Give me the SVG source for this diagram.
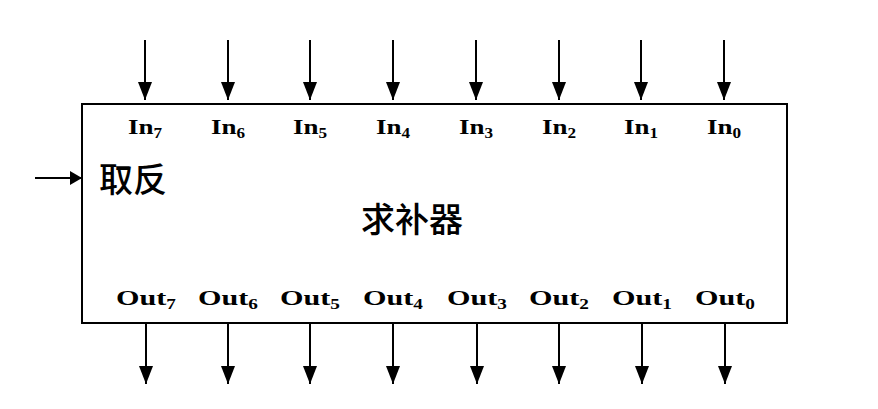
<svg xmlns="http://www.w3.org/2000/svg" width="878" height="409" viewBox="0 0 878 409">
<style>
.ln{stroke:#000;stroke-width:2;fill:none}
.box{stroke:#000;stroke-width:2;fill:#fff}
.lbl{font-family:"Liberation Serif","Times New Roman",serif;font-size:22px;font-weight:bold;fill:#000;text-anchor:middle}
.sub{font-size:14px}
.cjk{font-family:"Noto Sans CJK SC","Noto Sans CJK JP",sans-serif;font-size:34px;font-weight:500;fill:#000}
</style>
<defs>
<marker id="ah" viewBox="0 0 12 14" refX="12" refY="7" markerWidth="12" markerHeight="14" markerUnits="userSpaceOnUse" orient="auto">
<path d="M0,0 L12,7 L0,14 Z" fill="#000"/>
</marker>
<marker id="ahv" viewBox="0 0 18 14" refX="18" refY="7" markerWidth="18" markerHeight="14" markerUnits="userSpaceOnUse" orient="auto">
<path d="M0,0 L18,7 L0,14 Z" fill="#000"/>
</marker>
</defs>
<g id="complementer">
<rect class="box" x="82" y="104" width="705" height="219"/>
<text class="cjk" x="99" y="192">取反</text>
<text class="cjk" x="412" y="232" text-anchor="middle">求补器</text>
</g>
<g id="inputs">
<text class="lbl" x="145" y="134" textLength="34" lengthAdjust="spacingAndGlyphs">In<tspan class="sub" dy="4">7</tspan></text>
<text class="lbl" x="228" y="134" textLength="34" lengthAdjust="spacingAndGlyphs">In<tspan class="sub" dy="4">6</tspan></text>
<text class="lbl" x="310" y="134" textLength="34" lengthAdjust="spacingAndGlyphs">In<tspan class="sub" dy="4">5</tspan></text>
<text class="lbl" x="393" y="134" textLength="34" lengthAdjust="spacingAndGlyphs">In<tspan class="sub" dy="4">4</tspan></text>
<text class="lbl" x="476" y="134" textLength="34" lengthAdjust="spacingAndGlyphs">In<tspan class="sub" dy="4">3</tspan></text>
<text class="lbl" x="559" y="134" textLength="34" lengthAdjust="spacingAndGlyphs">In<tspan class="sub" dy="4">2</tspan></text>
<text class="lbl" x="641" y="134" textLength="34" lengthAdjust="spacingAndGlyphs">In<tspan class="sub" dy="4">1</tspan></text>
<text class="lbl" x="724" y="134" textLength="34" lengthAdjust="spacingAndGlyphs">In<tspan class="sub" dy="4">0</tspan></text>
</g>
<g id="outputs">
<text class="lbl" x="146" y="305" textLength="60" lengthAdjust="spacingAndGlyphs">Out<tspan class="sub" dy="4">7</tspan></text>
<text class="lbl" x="228" y="305" textLength="60" lengthAdjust="spacingAndGlyphs">Out<tspan class="sub" dy="4">6</tspan></text>
<text class="lbl" x="310" y="305" textLength="60" lengthAdjust="spacingAndGlyphs">Out<tspan class="sub" dy="4">5</tspan></text>
<text class="lbl" x="393" y="305" textLength="60" lengthAdjust="spacingAndGlyphs">Out<tspan class="sub" dy="4">4</tspan></text>
<text class="lbl" x="477" y="305" textLength="60" lengthAdjust="spacingAndGlyphs">Out<tspan class="sub" dy="4">3</tspan></text>
<text class="lbl" x="559" y="305" textLength="60" lengthAdjust="spacingAndGlyphs">Out<tspan class="sub" dy="4">2</tspan></text>
<text class="lbl" x="642" y="305" textLength="60" lengthAdjust="spacingAndGlyphs">Out<tspan class="sub" dy="4">1</tspan></text>
<text class="lbl" x="725" y="305" textLength="60" lengthAdjust="spacingAndGlyphs">Out<tspan class="sub" dy="4">0</tspan></text>
</g>
<g id="connectors">
<line class="ln" x1="35" y1="178" x2="82" y2="178" marker-end="url(#ah)"/>
<line class="ln" x1="145" y1="40" x2="145" y2="100" marker-end="url(#ahv)"/>
<line class="ln" x1="228" y1="40" x2="228" y2="100" marker-end="url(#ahv)"/>
<line class="ln" x1="310" y1="40" x2="310" y2="100" marker-end="url(#ahv)"/>
<line class="ln" x1="393" y1="40" x2="393" y2="100" marker-end="url(#ahv)"/>
<line class="ln" x1="476" y1="40" x2="476" y2="100" marker-end="url(#ahv)"/>
<line class="ln" x1="559" y1="40" x2="559" y2="100" marker-end="url(#ahv)"/>
<line class="ln" x1="641" y1="40" x2="641" y2="100" marker-end="url(#ahv)"/>
<line class="ln" x1="724" y1="40" x2="724" y2="100" marker-end="url(#ahv)"/>
<line class="ln" x1="146" y1="324" x2="146" y2="384" marker-end="url(#ahv)"/>
<line class="ln" x1="228" y1="324" x2="228" y2="384" marker-end="url(#ahv)"/>
<line class="ln" x1="310" y1="324" x2="310" y2="384" marker-end="url(#ahv)"/>
<line class="ln" x1="393" y1="324" x2="393" y2="384" marker-end="url(#ahv)"/>
<line class="ln" x1="477" y1="324" x2="477" y2="384" marker-end="url(#ahv)"/>
<line class="ln" x1="559" y1="324" x2="559" y2="384" marker-end="url(#ahv)"/>
<line class="ln" x1="642" y1="324" x2="642" y2="384" marker-end="url(#ahv)"/>
<line class="ln" x1="725" y1="324" x2="725" y2="384" marker-end="url(#ahv)"/>
</g>
</svg>
